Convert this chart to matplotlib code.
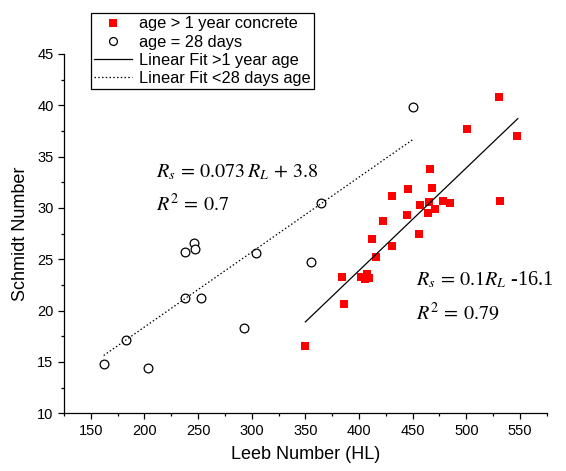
import matplotlib
matplotlib.use("Agg")
import matplotlib.pyplot as plt
from matplotlib.ticker import MultipleLocator
import numpy as np

plt.rcParams['font.family'] = ['Liberation Sans', 'DejaVu Sans']
plt.rcParams['mathtext.fontset'] = 'stix'

# age > 1 year concrete (Leeb HL, Schmidt)
old_leeb = [349.4, 384.1, 386.0, 402.0, 407.5, 406.0, 409.0, 412.3, 416.0, 422.3,
            430.6, 431.0, 444.9, 445.8, 455.8, 456.7, 464.1, 465.0, 466.0, 467.8,
            470.9, 478.6, 484.6, 500.4, 530.2, 531.0, 547.2]
old_schmidt = [16.6, 23.3, 20.6, 23.3, 23.6, 23.1, 23.2, 27.0, 25.2, 28.75,
               31.2, 26.3, 29.3, 31.8, 27.5, 30.3, 29.5, 30.55, 33.8, 31.9,
               29.9, 30.7, 30.5, 37.7, 40.8, 30.7, 37.0]

# age = 28 days
young_leeb = [162.4, 182.9, 203.0, 238.1, 252.3, 238.1, 246.4, 246.7, 292.6, 303.8,
              364.6, 355.3, 450.4]
young_schmidt = [14.8, 17.1, 14.4, 21.2, 21.2, 25.7, 26.6, 26.0, 18.3, 25.6,
                 30.5, 24.7, 39.8]

# linear fits
fit_old_slope, fit_old_icpt = 0.1, -16.1
fit_old_range = [350, 548]
fit_young_slope, fit_young_icpt = 0.073, 3.8
fit_young_range = [162, 450]

labels = ["age > 1 year concrete", "age = 28 days",
          "Linear Fit >1 year age", "Linear Fit <28 days age"]

fig = plt.figure(figsize=(5.66, 4.71), dpi=100)
ax = fig.add_axes([0.113, 0.1225, 0.853, 0.763])

ax.plot(old_leeb, old_schmidt, linestyle='none', marker='s', color='#ff0000',
        markersize=5.8, markeredgewidth=0, label=labels[0])
ax.plot(young_leeb, young_schmidt, linestyle='none', marker='o', markerfacecolor='white',
        markeredgecolor='black', markersize=6.3, markeredgewidth=0.9, label=labels[1])

xo = np.array(fit_old_range)
ax.plot(xo, fit_old_slope * xo + fit_old_icpt, color='black', lw=0.9, label=labels[2])
xy = np.array(fit_young_range)
ax.plot(xy, fit_young_slope * xy + fit_young_icpt, color='black', lw=0.9,
        linestyle=(0, (1.2, 1.8)), label=labels[3])

ax.set_xlim(125, 575)
ax.set_ylim(10, 45)
ax.xaxis.set_major_locator(MultipleLocator(50))
ax.xaxis.set_minor_locator(MultipleLocator(25))
ax.yaxis.set_major_locator(MultipleLocator(5))
ax.yaxis.set_minor_locator(MultipleLocator(2.5))
ax.set_xticks(np.arange(150, 551, 50))
ax.spines['top'].set_visible(False)
ax.spines['right'].set_visible(False)
for s in ['left', 'bottom']:
    ax.spines[s].set_linewidth(0.9)
ax.tick_params(which='major', direction='out', length=4, width=0.9, labelsize=10.5)
ax.tick_params(which='minor', direction='out', length=2.5, width=0.9)

ax.set_xlabel("Leeb Number (HL)", fontsize=13, labelpad=6)
ax.set_ylabel("Schmidt Number", fontsize=13, labelpad=6)

tkw = dict(fontsize=14.5, ha='left', va='center', family='Liberation Serif')
ax.text(211, 33.5, r"$R_s\,=\,0.073\,R_L\,+\,3.8$", **tkw)
ax.text(211, 30.3, r"$R^2\,=\,0.7$", **tkw)
ax.text(453, 23.0, r"$R_s\,=\,0.1R_L$ -16.1", **tkw)
ax.text(453, 19.7, r"$R^2\,=\,0.79$", **tkw)

leg = ax.legend(loc='upper left', bbox_to_anchor=(91 / 566, 1 - 13 / 471),
                bbox_transform=fig.transFigure, borderaxespad=0, fontsize=11.8,
                frameon=True, fancybox=False, edgecolor='black', framealpha=1,
                handlelength=2.3, handletextpad=0.45, labelspacing=0.2,
                borderpad=0.2, markerscale=0.9)
leg.get_frame().set_linewidth(0.9)

fig.savefig("out.png", dpi=100)
